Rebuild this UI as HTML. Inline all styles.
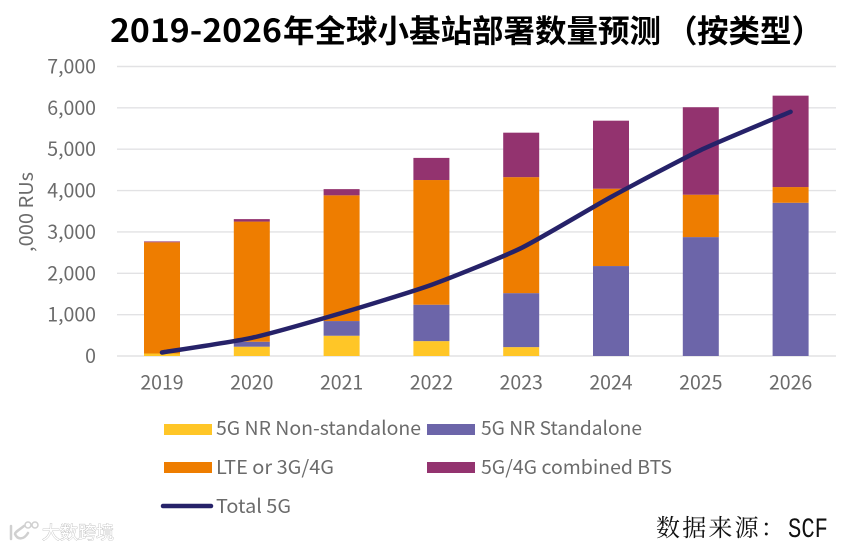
<!DOCTYPE html>
<html lang="zh">
<head>
<meta charset="utf-8">
<title>2019-2026年全球小基站部署数量预测（按类型）</title>
<style>
html,body{margin:0;padding:0;background:#fff;width:862px;height:549px;overflow:hidden}
svg{display:block;filter:blur(.35px)}
text{font-family:"Noto Sans CJK SC","DejaVu Sans",sans-serif}
</style>
</head>
<body>
<svg id="chart" width="862" height="549" viewBox="0 0 862 549" xmlns="http://www.w3.org/2000/svg">
  <g font-size="31.5" font-weight="700" fill="#000">
    <text x="110" y="42" textLength="172" lengthAdjust="spacingAndGlyphs">2019-2026</text>
    <text x="283" y="42">年全球小基站部署数量预测</text>
    <text x="666" y="42">（</text>
    <text x="697" y="42">按类型）</text>
  </g>
  <g id="grid"></g>
  <g id="y-ticks"></g>
  <text transform="translate(33,212) rotate(-90)" text-anchor="middle" font-size="19" fill="#6b6b6b" textLength="80" lengthAdjust="spacingAndGlyphs">,000 RUs</text>
  <g id="bars"></g>
  <g id="x-ticks"></g>
  <path id="total-line" fill="none" stroke="#262269" stroke-width="4.5" stroke-linecap="round" stroke-linejoin="round"></path>

  <g font-size="19" fill="#6b6b6b">
    <rect x="164" y="424" width="48" height="11" fill="#ffc627"></rect>
    <text x="216" y="435" textLength="205" lengthAdjust="spacingAndGlyphs">5G NR Non-standalone</text>
    <rect x="427" y="424" width="48" height="11" fill="#6c65a9"></rect>
    <text x="481" y="435" textLength="161" lengthAdjust="spacingAndGlyphs">5G NR Standalone</text>
    <rect x="164" y="462" width="48" height="11" fill="#ee7d00"></rect>
    <text x="216" y="474" textLength="118" lengthAdjust="spacingAndGlyphs">LTE or 3G/4G</text>
    <rect x="427" y="462" width="48" height="11" fill="#93336f"></rect>
    <text x="481" y="474" textLength="191" lengthAdjust="spacingAndGlyphs">5G/4G combined BTS</text>
    <line x1="163" y1="506" x2="211" y2="506" stroke="#262269" stroke-width="4.5" stroke-linecap="round"></line>
    <text x="216" y="513" textLength="75" lengthAdjust="spacingAndGlyphs">Total 5G</text>
  </g>

  <g fill="#111">
    <text x="656" y="536" font-size="24" letter-spacing="2.2" style='font-family:"Noto Serif CJK SC",serif'>数据来源：</text>
    <text x="788" y="537" font-size="28" textLength="40" lengthAdjust="spacingAndGlyphs" style='font-family:"Liberation Mono",monospace'>SCF</text>
  </g>

  <g>
    <path d="M11 526 V539 M24 526 C19 530 15 532 15 534 C17 539 23 541 28 533" fill="none" stroke="#d0d0d0" stroke-width="2.5" stroke-linecap="round"></path>
    <circle cx="28" cy="525" r="3" fill="none" stroke="#d0d0d0" stroke-width="1.5"></circle>
    <circle cx="35" cy="525" r="3" fill="none" stroke="#d0d0d0" stroke-width="1.5"></circle>
    <text x="42" y="539" font-size="18" fill="#fff" stroke="#bdbdbd" stroke-width="0.8" paint-order="stroke">大数跨境</text>
  </g>
</svg>
<script>
const categories = ['2019','2020','2021','2022','2023','2024','2025','2026'];
const nonStandalone = [60,225,490,360,215,0,0,0];
const standalone = [0,120,355,880,1305,2175,2875,3705];
const lteOr3g4g = [2690,2905,3040,3015,2805,1870,1025,380];
const combinedBts = [20,60,150,535,1075,1645,2115,2210];
const total5g = [85,440,1040,1720,2610,3845,4980,5905];
const yTicks = [0,1000,2000,3000,4000,5000,6000,7000];
const seriesColors = ['#ffc627','#6c65a9','#ee7d00','#93336f'];
const seriesNames = ['non-standalone','standalone','lte','combined'];

const NS = 'http://www.w3.org/2000/svg';
const yMax = 7000;
function yScale(v){ return 356 - (v / yMax) * 289.5; }
function xScale(i){ return 162 + i * 89.8; }
const barWidth = 36;

function make(tag, attrs, parent){
  const el = document.createElementNS(NS, tag);
  for (const k in attrs) el.setAttribute(k, attrs[k]);
  parent.appendChild(el);
  return el;
}

const gridG = document.getElementById('grid');
const yG = document.getElementById('y-ticks');
yTicks.forEach(function(t){
  const line = make('line', {x1:117, x2:836, y1:yScale(t), y2:yScale(t), stroke:'#e2e2e4', 'stroke-width':1.4}, gridG);
  
  
  const label = make('text', {x:96, y:yScale(t) + 7, 'text-anchor':'end', 'font-size':19.5, fill:'#6b6b6b'}, yG);
  label.textContent = t.toLocaleString('en-US');
  
  
});

const stacks = [nonStandalone, standalone, lteOr3g4g, combinedBts];
const barsG = document.getElementById('bars');
const xG = document.getElementById('x-ticks');
categories.forEach(function(cat, i){
  let base = 0;
  stacks.forEach(function(series, s){
    const v = series[i];
    const top = yScale(base + v);
    const rect = make('rect', {x:xScale(i) - barWidth / 2, y:top, width:barWidth, height:yScale(base) - top, fill:seriesColors[s]}, barsG);
    
    
    base += v;
  });
  const label = make('text', {x:xScale(i), y:389.5, 'text-anchor':'middle', 'font-size':19.5, fill:'#6b6b6b'}, xG);
  label.textContent = cat;
  
  
});

/* Slightly smoothed line through the total-5G values */
const pts = total5g.map(function(v, i){ return [xScale(i), yScale(v)]; });
let d = 'M' + pts[0][0] + ' ' + pts[0][1];
for (let i = 0; i < pts.length - 1; i++){
  const p0 = pts[Math.max(i - 1, 0)], p1 = pts[i], p2 = pts[i + 1], p3 = pts[Math.min(i + 2, pts.length - 1)];
  const k = 0.1;
  d += ' C' + (p1[0] + (p2[0] - p0[0]) * k) + ' ' + (p1[1] + (p2[1] - p0[1]) * k) +
       ' ' + (p2[0] - (p3[0] - p1[0]) * k) + ' ' + (p2[1] - (p3[1] - p1[1]) * k) +
       ' ' + p2[0] + ' ' + p2[1];
}
document.getElementById('total-line').setAttribute('d', d);
</script>
</body>
</html>
